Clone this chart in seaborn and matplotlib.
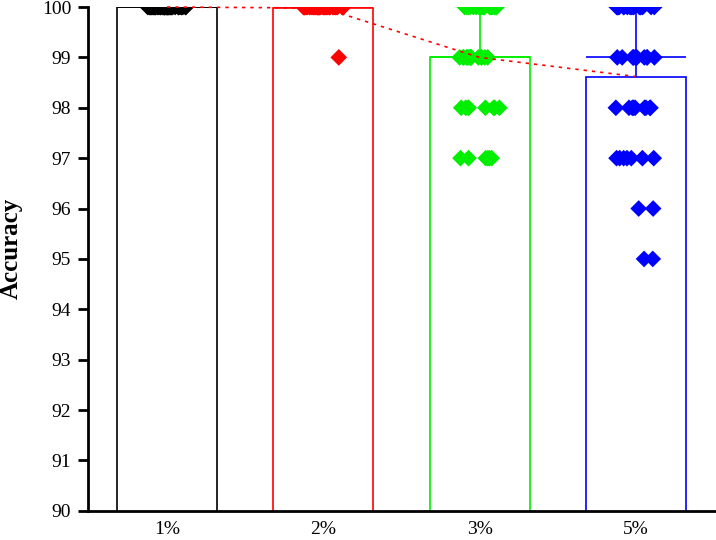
import numpy as np
import pandas as pd
import matplotlib
matplotlib.use('Agg')
import matplotlib.pyplot as plt
import seaborn as sns

# Accuracy scores per noise level: distinct values and how often each occurs
groups = ['1%', '2%', '3%', '5%']
colors = ['#000000', '#ff0000', '#00ee00', '#0000ff']

values_1 = [100]
counts_1 = [50]
values_2 = [100, 99]
counts_2 = [49, 1]
values_3 = [100, 99, 98, 97]
counts_3 = [20, 16, 8, 6]
values_5 = [100, 99, 98, 97, 96, 95]
counts_5 = [18, 12, 9, 7, 2, 2]

# Build long-form table
rows = []
for g, vals, cnts in zip(groups,
                         [values_1, values_2, values_3, values_5],
                         [counts_1, counts_2, counts_3, counts_5]):
    for v in np.repeat(vals, cnts):
        rows.append((g, v))
df = pd.DataFrame(rows, columns=['group', 'acc'])

stats = df.groupby('group', sort=False)['acc'].agg(['mean', 'std', 'median']).reindex(groups)

sns.set_style('ticks', {'axes.edgecolor': 'black', 'xtick.color': 'black',
                        'ytick.color': 'black', 'text.color': 'black',
                        'axes.labelcolor': 'black'})
plt.rcParams['font.family'] = ['Liberation Serif', 'DejaVu Serif']

fig, ax = plt.subplots(figsize=(7.16, 5.4), dpi=100)
fig.subplots_adjust(left=0.123, right=1.0, bottom=0.054, top=0.987)

bar_w = 0.64
palette = dict(zip(groups, colors))

# Hollow bars of the mean
sns.barplot(data=df, x='group', y='acc', hue='group', palette=palette, order=groups,
            fill=False, errorbar=None, width=bar_w, linewidth=1.2, legend=False, ax=ax)

# Upper SD error bars and median lines
for i, g in enumerate(groups):
    m, s, med = stats.loc[g, 'mean'], stats.loc[g, 'std'], stats.loc[g, 'median']
    ax.errorbar(i, m, yerr=[[0], [s]], fmt='none', ecolor=palette[g], elinewidth=1.2,
                capsize=0, zorder=2)
    ax.hlines(med, i - bar_w / 2, i + bar_w / 2, color=palette[g], linewidth=1.2, zorder=2)

# Individual points
np.random.seed(2)
sns.stripplot(data=df, x='group', y='acc', hue='group', palette=palette, order=groups,
              marker='D', size=8.5, jitter=0.13, linewidth=0, legend=False, ax=ax, zorder=3)

# Dotted line through the means
ax.plot(range(len(groups)), stats['mean'].values, linestyle=(0, (2, 3)), color='red',
        linewidth=1.2, zorder=4, clip_on=False)

ax.set_ylim(90, 100)
ax.set_yticks(range(90, 101))
ax.set_xlim(-0.505, 3.513)
ax.set_xlabel('')
ax.set_ylabel('Accuracy', fontsize=18, fontweight='bold')
ax.yaxis.set_label_coords(-0.104, 0.52)

for side in ['top', 'right']:
    ax.spines[side].set_visible(False)
for side in ['left', 'bottom']:
    ax.spines[side].set_linewidth(2)
ax.tick_params(axis='y', direction='out', length=7.2, width=2, labelsize=14, pad=5)
ax.tick_params(axis='x', length=0, labelsize=14, pad=7)

fig.savefig('out.png', dpi=100)
